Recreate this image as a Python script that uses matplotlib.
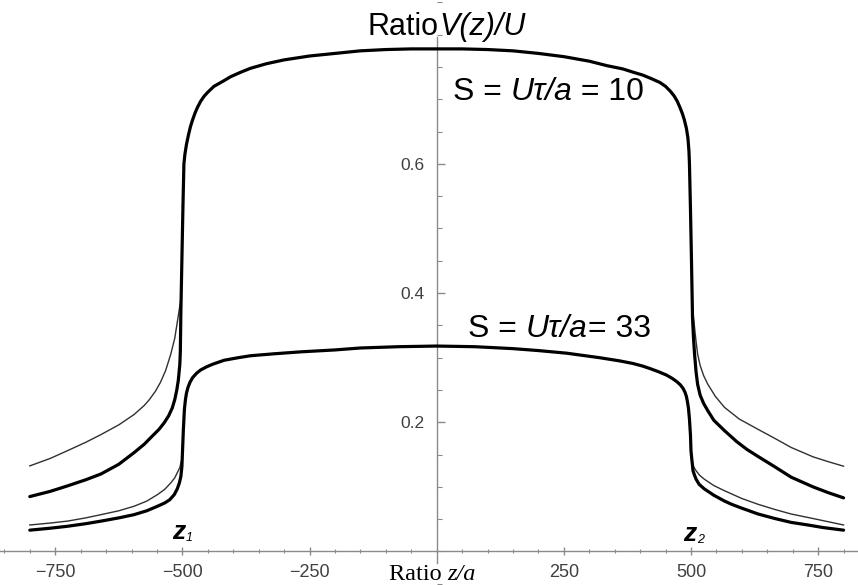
from matplotlib import pyplot as plt
from matplotlib.ticker import MultipleLocator, FixedLocator

# curves: z/a and V(z)/U
z_s10 = [-800, -760, -726, -690, -660, -625, -595, -575, -560, -546, -536, -527, -520, -515, -511, -508,
         -505, -504, -503, -501, -499, -497, -495, -492, -488, -484, -480, -475, -470, -464, -457,
         -450, -438, -420, -405, -385, -366, -335, -300, -250, -200, -150, -100, -50, 0,
         50, 100, 150, 200, 250, 300, 335, 366, 386, 405, 422, 439, 450, 460, 467, 473, 478, 483,
         487, 491, 494, 496, 497, 499, 501, 503, 505, 507, 510, 513, 518, 525, 533, 545, 566, 590,
         610, 632, 665, 697, 740, 770, 800]
v_s10 = [0.085, 0.093, 0.1015, 0.111, 0.120, 0.135, 0.153, 0.166, 0.178, 0.189, 0.199, 0.210, 0.222, 0.235, 0.250, 0.265,
         0.290, 0.310, 0.370, 0.450, 0.530, 0.600, 0.615, 0.630, 0.645, 0.658, 0.668, 0.679, 0.688, 0.697, 0.705,
         0.711, 0.720, 0.728, 0.735, 0.742, 0.748, 0.755, 0.761, 0.767, 0.771, 0.775, 0.777, 0.778, 0.778,
         0.778, 0.777, 0.775, 0.771, 0.766, 0.759, 0.752, 0.747, 0.742, 0.7375, 0.732, 0.726, 0.720, 0.712, 0.705, 0.697, 0.688, 0.678,
         0.668, 0.655, 0.640, 0.620, 0.600, 0.530, 0.450, 0.362, 0.330, 0.306, 0.278, 0.259, 0.242, 0.229, 0.218, 0.203, 0.187, 0.170,
         0.158, 0.147, 0.131, 0.115, 0.100, 0.091, 0.083]

z_s33 = [-800, -760, -726, -690, -660, -625, -595, -570, -549, -535, -525, -516, -510, -506, -503, -501,
         -500, -499, -498, -497, -496, -494, -492, -489, -485, -480, -472, -464, -452, -440, -418, -390,
         -366, -320, -268, -200, -150, -75, 0, 75, 150, 200, 255, 320, 360, 386, 405, 420, 437, 452,
         463, 472, 479, 484, 488, 491, 493, 495, 497, 499, 500, 502, 504, 507, 510, 516, 526, 545,
         566, 580, 600, 632, 665, 697, 730, 760, 800]
v_s33 = [0.033, 0.036, 0.039, 0.043, 0.047, 0.052, 0.057, 0.063, 0.070, 0.075, 0.080, 0.088, 0.097, 0.106, 0.116, 0.131,
         0.150, 0.170, 0.190, 0.205, 0.220, 0.235, 0.245, 0.254, 0.262, 0.269, 0.276, 0.281, 0.286, 0.290, 0.296, 0.300,
         0.303, 0.306, 0.309, 0.312, 0.315, 0.317, 0.318, 0.317, 0.314, 0.311, 0.307, 0.300, 0.295, 0.291, 0.287, 0.283, 0.278, 0.273,
         0.268, 0.263, 0.258, 0.253, 0.247, 0.240, 0.232, 0.222, 0.205, 0.180, 0.156, 0.140, 0.125, 0.118, 0.112, 0.104, 0.097, 0.087,
         0.078, 0.073, 0.067, 0.058, 0.051, 0.045, 0.041, 0.037, 0.033]

# thin curves, only visible outside the plateau
z_up_l = [-800, -760, -726, -690, -660, -625, -595, -575, -565, -553, -543, -533, -523, -515, -510, -506, -503, -502]
v_up_l = [0.1325, 0.144, 0.156, 0.169, 0.181, 0.196, 0.212, 0.226, 0.235, 0.248, 0.262, 0.280, 0.305, 0.330, 0.355, 0.375, 0.390, 0.420]
z_up_r = [502, 503, 507, 510, 513, 518, 525, 533, 548, 566, 595, 632, 665, 697, 740, 770, 800]
v_up_r = [0.420, 0.378, 0.347, 0.325, 0.306, 0.288, 0.272, 0.259, 0.240, 0.223, 0.205, 0.189, 0.175, 0.161, 0.1465, 0.139, 0.132]

z_lo_l = [-800, -760, -726, -690, -660, -625, -595, -570, -549, -535, -523, -515, -510, -505, -502]
v_lo_l = [0.041, 0.044, 0.047, 0.052, 0.057, 0.063, 0.070, 0.078, 0.088, 0.096, 0.106, 0.114, 0.122, 0.130, 0.140]
z_lo_r = [502, 506, 510, 517, 526, 545, 566, 600, 632, 665, 697, 740, 770, 800]
v_lo_r = [0.140, 0.130, 0.125, 0.118, 0.112, 0.102, 0.094, 0.082, 0.073, 0.065, 0.058, 0.051, 0.046, 0.041]

xticks = [-750, -500, -250, 250, 500, 750]
yticks = [0.2, 0.4, 0.6]

W, H = 858, 585


def px(x, y):
    # picture pixel -> axes fraction (axes fills the figure)
    return x / W, 1 - y / H


fig = plt.figure(figsize=(W / 100, H / 100), dpi=100)
ax = fig.add_axes([0, 0, 1, 1])
ax.set_xlim(-858.6, 828.4)
ax.set_ylim(-0.0519, 0.8537)

for s in ['top', 'right']:
    ax.spines[s].set_visible(False)
ax.spines['left'].set_position(('data', 0))
ax.spines['bottom'].set_position(('data', 0))
ax.spines['left'].set_bounds(-0.018, 0.797)
for s in ['left', 'bottom']:
    ax.spines[s].set_color('#8a8a8a')
    ax.spines[s].set_linewidth(1.0)

ax.xaxis.set_major_locator(FixedLocator(xticks))
ax.xaxis.set_minor_locator(MultipleLocator(50))
ax.yaxis.set_major_locator(FixedLocator(yticks))
ax.yaxis.set_minor_locator(MultipleLocator(0.05))
ax.set_xticklabels([f'{t:d}'.replace('-', '\u2212') for t in xticks])
ax.set_yticklabels([f'{t:.1f}' for t in yticks])

ax.tick_params(axis='x', which='major', direction='inout', length=6, width=1, color='#8a8a8a',
               pad=6, labelsize=13, labelcolor='#404040')
ax.tick_params(axis='x', which='minor', direction='inout', length=3.5, width=0.8, color='#8a8a8a')
ax.tick_params(axis='y', which='major', direction='in', length=5.5, width=1, color='#8a8a8a',
               pad=9, labelsize=12.5, labelcolor='#404040')
ax.tick_params(axis='y', which='minor', direction='in', length=3.5, width=0.8, color='#8a8a8a')
for lab in ax.get_xticklabels() + ax.get_yticklabels():
    lab.set_family('Liberation Sans')

thin = dict(color='#303030', lw=1.0, solid_joinstyle='round', zorder=2)
thick = dict(color='black', lw=2.3, solid_joinstyle='round', solid_capstyle='round', zorder=3)
ax.plot(z_up_l, v_up_l, **thin)
ax.plot(z_up_r, v_up_r, **thin)
ax.plot(z_lo_l, v_lo_l, **thin)
ax.plot(z_lo_r, v_lo_r, **thin)
ax.plot(z_s10, v_s10, **thick)
ax.plot(z_s33, v_s33, **thick)


def rich(x, y, parts, size, family='Liberation Sans'):
    t = ax.text(*px(x, y), parts[0][0], transform=ax.transAxes, fontsize=size,
                family=family, style=parts[0][1], va='baseline', ha='left')
    for s, st in parts[1:]:
        t = ax.annotate(s, xy=(1, 0), xycoords=t, fontsize=size, family=family,
                        style=st, va='bottom', ha='left')
    return t


rich(368, 35, [('Ratio', 'normal'), ('V(z)/U', 'italic')], 22)
rich(453, 100, [('S = ', 'normal'), ('U\u03c4/a', 'italic'), (' = 10', 'normal')], 23)
rich(468, 337, [('S = ', 'normal'), ('U\u03c4/a', 'italic'), ('= 33', 'normal')], 23)
rich(389, 580, [('Ratio ', 'normal'), ('z/a', 'italic')], 17.5, family='Liberation Serif')

# z1, z2 markers
for x, y, sub in [(172, 539, '1'), (683, 541, '2')]:
    t = ax.text(*px(x, y), 'z', transform=ax.transAxes, fontsize=19, family='Liberation Sans',
                style='italic', weight='bold', va='baseline', ha='left')
    ax.annotate(sub, xy=(1, 0), xycoords=t, xytext=(0.5, 0), textcoords='offset points',
                fontsize=9, family='Liberation Sans', style='italic', va='bottom', ha='left')

fig.savefig('out.png', dpi=100)
